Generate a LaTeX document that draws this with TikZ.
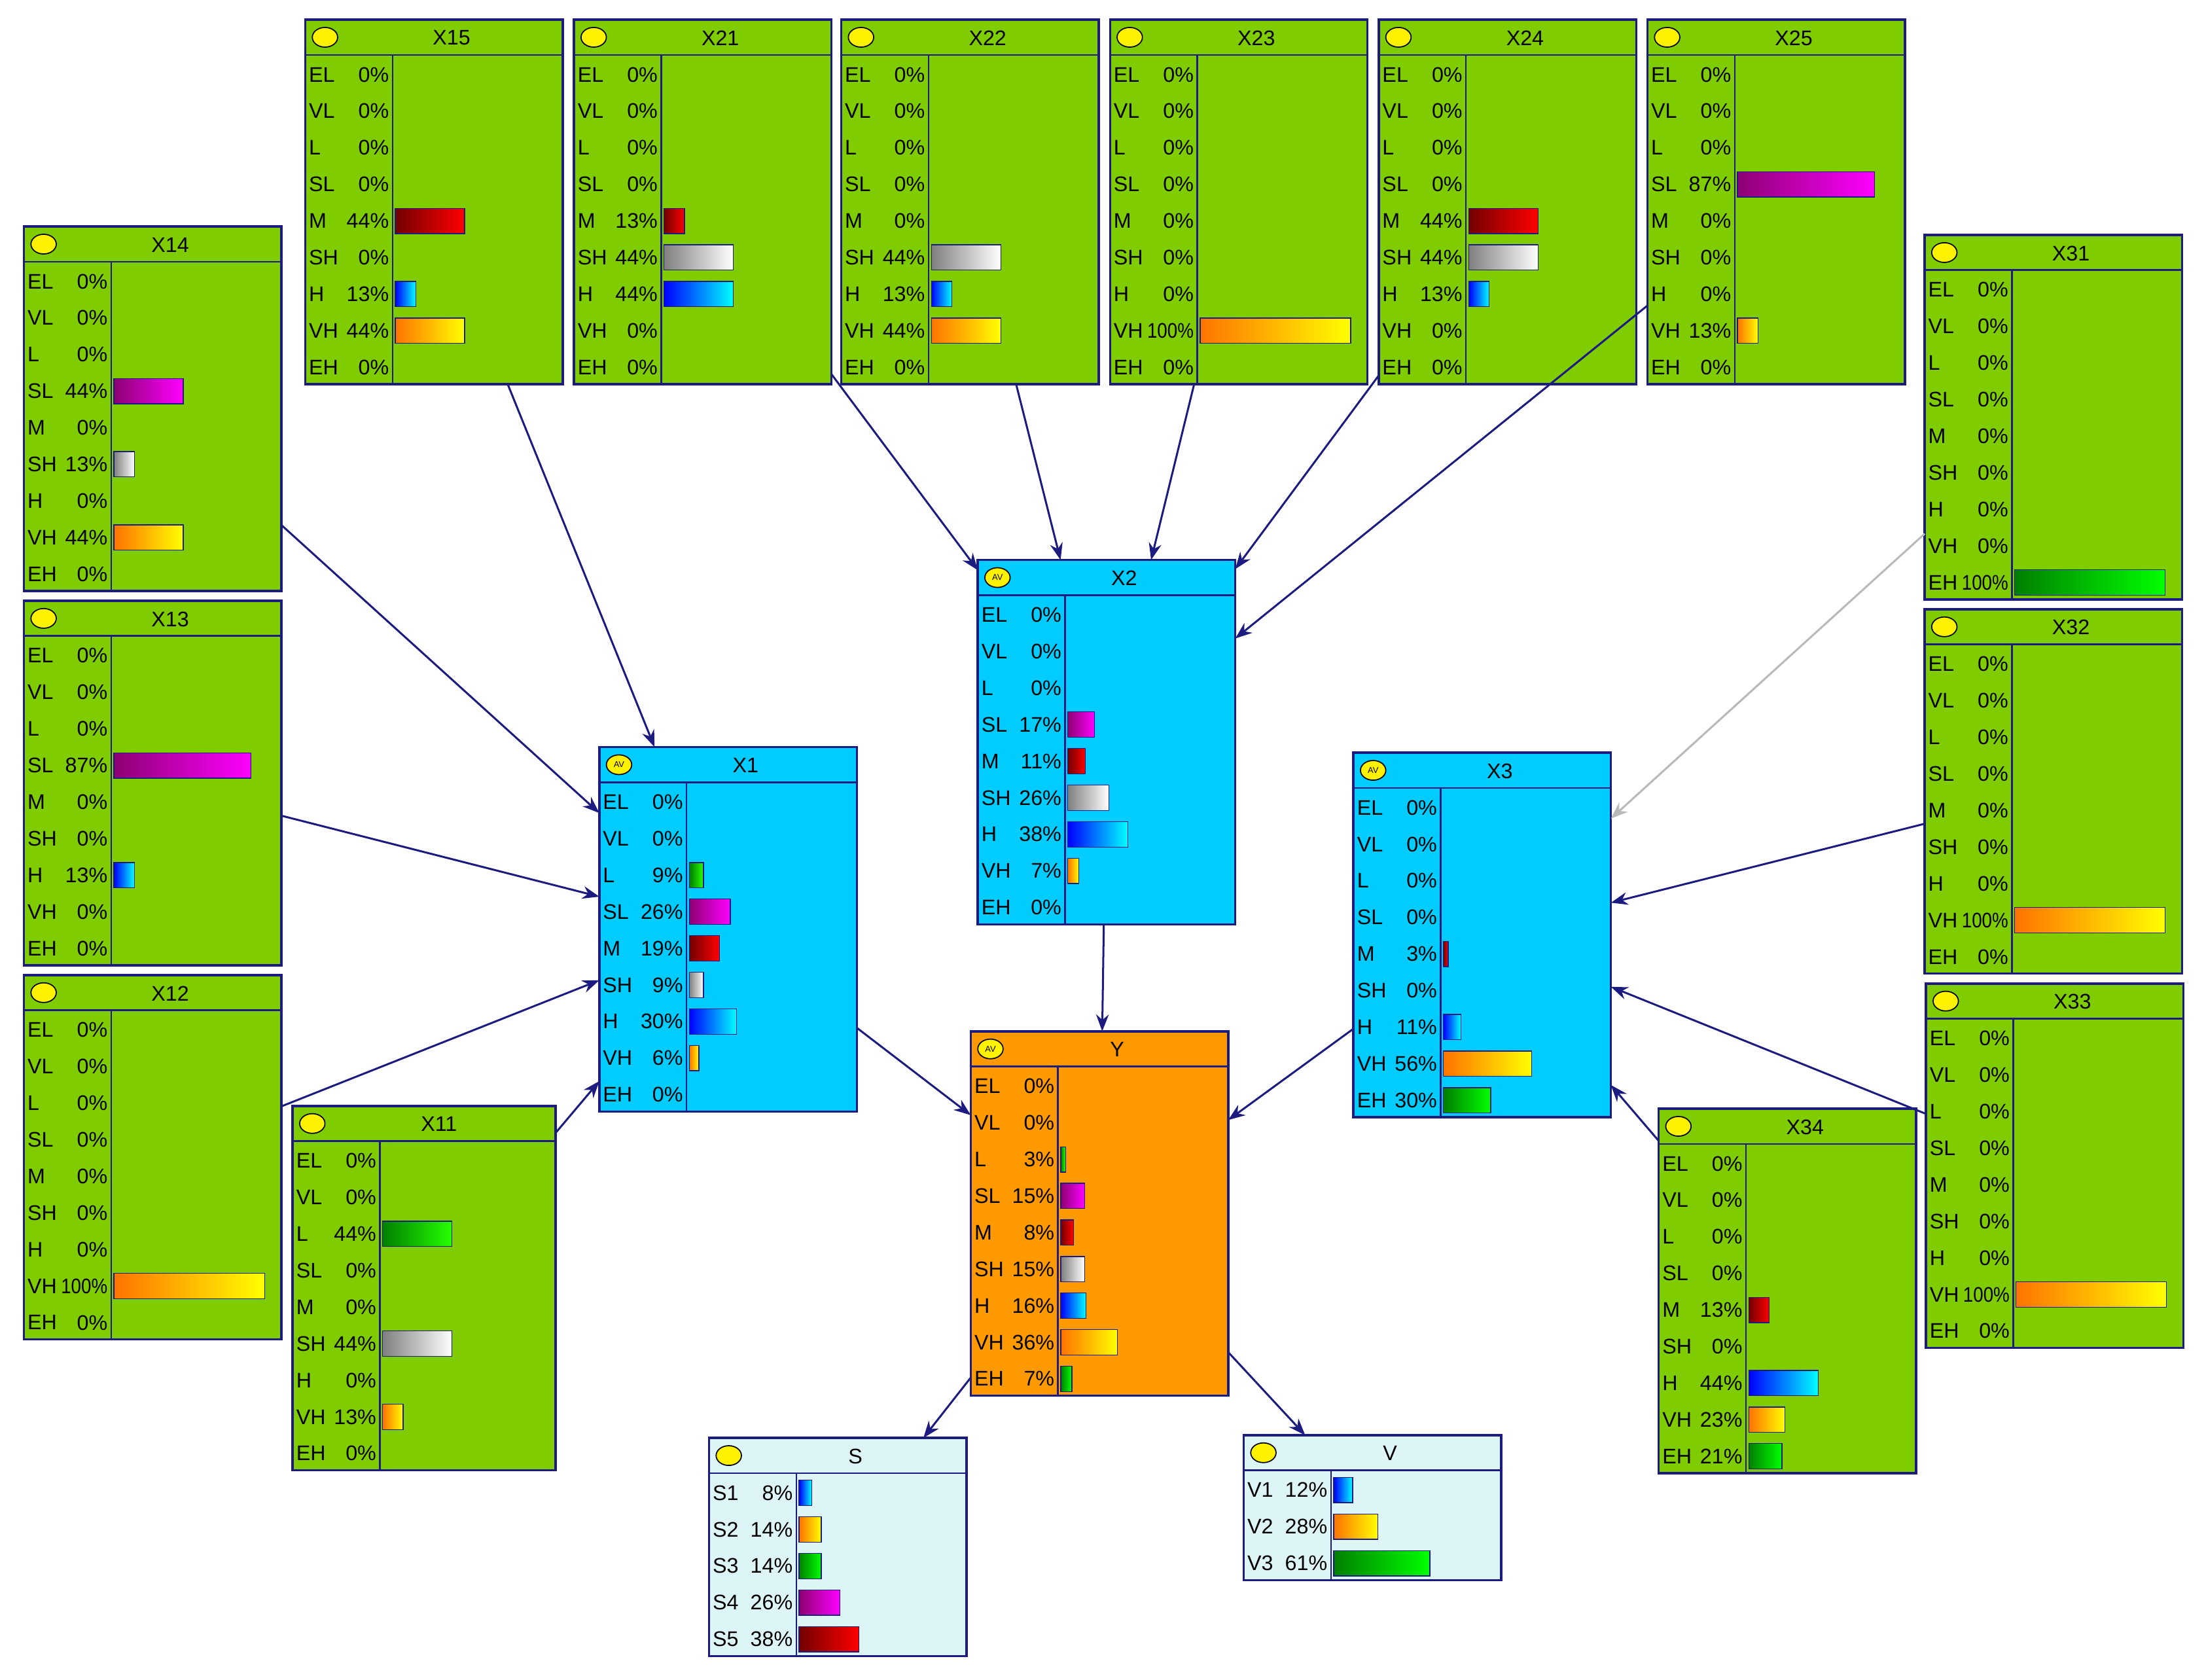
\documentclass[tikz,border=0pt]{standalone}
\usepackage{fontspec}
\setmainfont{Liberation Sans}
\usetikzlibrary{arrows.meta}
\definecolor{gn}{HTML}{7FCC00}
\definecolor{cy}{HTML}{00CCFF}
\definecolor{og}{HTML}{FF9900}
\definecolor{lc}{HTML}{DDF5F7}
\definecolor{nv}{HTML}{1C1C80}
\tikzset{
 x=0.5pt,y=-0.5pt,
 box/.style={draw=nv,line width=0.8pt,minimum width=91.5pt,inner sep=0pt,outer sep=0pt},
 bord/.style={draw=nv,line width=0.6pt},
 lab/.style={font=\fontsize{7.5}{8}\selectfont,inner sep=0.6pt},
 title/.style={font=\fontsize{7.5}{8}\selectfont,inner sep=0pt},
 bar/.style={draw=nv,line width=0.3pt},
 bEL/.style={left color=green!50!black,right color=green},
 bVL/.style={left color=green!50!black,right color=green},
 bL/.style={left color=green!50!black,right color=green!80!lime},
 bSL/.style={left color=violet!80!purple,right color=magenta},
 bM/.style={left color=red!45!black,right color=red},
 bSH/.style={left color=gray,right color=white},
 bH/.style={left color=blue,right color=cyan},
 bVH/.style={left color=orange!90!red,right color=yellow},
 bEH/.style={left color=green!50!black,right color=green},
 bS1/.style={bH},bS2/.style={bVH},bS3/.style={bEH},bS4/.style={bSL},bS5/.style={bM},
 bV1/.style={bH},bV2/.style={bVH},bV3/.style={bEH},
 edge/.style={draw=nv,line width=0.7pt,-{Stealth[length=6pt,width=4.5pt]}},
}
\newcommand\bnode[9]{%
 \pgfmathsetmacro\hgt{(25+26*#4)*0.5}
 \pgfmathsetmacro\bxw{#9*0.5}
 \node[box,fill=#5,minimum height=\hgt pt,minimum width=\bxw pt,anchor=north west] (#1) at (#2,#3) {};
 \draw[bord] (#2,#3+25) -- ++(#9,0);
 \draw[bord] (#2+62,#3+25) -- (#2+62,#3+25+26*#4);
 \draw[fill=yellow,draw=black,line width=0.4pt] (#2+14,#3+12.5) ellipse [x radius=4.5pt,y radius=3.5pt];
 \node[font=\fontsize{3}{3}\selectfont,inner sep=0pt] at (#2+14,#3+12.5) {#6};
 \node[title] at (#2+104,#3+13) {#7};
 \foreach \lb/\pc [count=\ii from 0] in {#8}{
   \pgfmathsetmacro\yc{#3+39+26*\ii}
   \node[lab,anchor=west] at (#2+1,\yc) {\lb};
   \node[lab,anchor=east] at (#2+61,\yc) {\ifnum\pc>99 \scalebox{0.86}[1]{\pc\%}\else\pc\%\fi};
   \ifnum\pc>0
     \pgfmathsetmacro\bw{min(1.12*\pc,107)}
     \edef\dobar{\noexpand\draw[bar,b\lb]}%
     \dobar (#2+64,\yc-9) rectangle ++(\bw,18);
   \fi
 }
}
\begin{document}
\begin{tikzpicture}
\fill[white] (0,0) rectangle (1568,1194);
\useasboundingbox (0,0) rectangle (1568,1194);
\bnode{X15}{217}{14}{9}{gn}{}{X15}{EL/0,VL/0,L/0,SL/0,M/44,SH/0,H/13,VH/44,EH/0}{183}
\bnode{X21}{408}{14}{9}{gn}{}{X21}{EL/0,VL/0,L/0,SL/0,M/13,SH/44,H/44,VH/0,EH/0}{183}
\bnode{X22}{598}{14}{9}{gn}{}{X22}{EL/0,VL/0,L/0,SL/0,M/0,SH/44,H/13,VH/44,EH/0}{183}
\bnode{X23}{789}{14}{9}{gn}{}{X23}{EL/0,VL/0,L/0,SL/0,M/0,SH/0,H/0,VH/100,EH/0}{183}
\bnode{X24}{980}{14}{9}{gn}{}{X24}{EL/0,VL/0,L/0,SL/0,M/44,SH/44,H/13,VH/0,EH/0}{183}
\bnode{X25}{1171}{14}{9}{gn}{}{X25}{EL/0,VL/0,L/0,SL/87,M/0,SH/0,H/0,VH/13,EH/0}{183}
\bnode{X14}{17}{161}{9}{gn}{}{X14}{EL/0,VL/0,L/0,SL/44,M/0,SH/13,H/0,VH/44,EH/0}{183}
\bnode{X13}{17}{427}{9}{gn}{}{X13}{EL/0,VL/0,L/0,SL/87,M/0,SH/0,H/13,VH/0,EH/0}{183}
\bnode{X12}{17}{693}{9}{gn}{}{X12}{EL/0,VL/0,L/0,SL/0,M/0,SH/0,H/0,VH/100,EH/0}{183}
\bnode{X11}{208}{786}{9}{gn}{}{X11}{EL/0,VL/0,L/44,SL/0,M/0,SH/44,H/0,VH/13,EH/0}{187}
\bnode{X1}{426}{531}{9}{cy}{AV}{X1}{EL/0,VL/0,L/9,SL/26,M/19,SH/9,H/30,VH/6,EH/0}{183}
\bnode{X2}{695}{398}{9}{cy}{AV}{X2}{EL/0,VL/0,L/0,SL/17,M/11,SH/26,H/38,VH/7,EH/0}{183}
\bnode{Y}{690}{733}{9}{og}{AV}{Y}{EL/0,VL/0,L/3,SL/15,M/8,SH/15,H/16,VH/36,EH/7}{183}
\bnode{X3}{962}{535}{9}{cy}{AV}{X3}{EL/0,VL/0,L/0,SL/0,M/3,SH/0,H/11,VH/56,EH/30}{183}
\bnode{X31}{1368}{167}{9}{gn}{}{X31}{EL/0,VL/0,L/0,SL/0,M/0,SH/0,H/0,VH/0,EH/100}{183}
\bnode{X32}{1368}{433}{9}{gn}{}{X32}{EL/0,VL/0,L/0,SL/0,M/0,SH/0,H/0,VH/100,EH/0}{183}
\bnode{X33}{1369}{699}{9}{gn}{}{X33}{EL/0,VL/0,L/0,SL/0,M/0,SH/0,H/0,VH/100,EH/0}{183}
\bnode{X34}{1179}{788}{9}{gn}{}{X34}{EL/0,VL/0,L/0,SL/0,M/13,SH/0,H/44,VH/23,EH/21}{183}
\bnode{S}{504}{1022}{5}{lc}{}{S}{S1/8,S2/14,S3/14,S4/26,S5/38}{183}
\bnode{V}{884}{1020}{3}{lc}{}{V}{V1/12,V2/28,V3/61}{183}
\draw[edge] (X15) -- (X1);
\draw[edge] (X14) -- (X1);
\draw[edge] (X13) -- (X1);
\draw[edge] (X12) -- (X1);
\draw[edge] (X11) -- (X1);
\draw[edge] (X21) -- (X2);
\draw[edge] (X22) -- (X2);
\draw[edge] (X23) -- (X2);
\draw[edge] (X24) -- (X2);
\draw[edge] (X25) -- (X2);
\draw[edge,draw=gray!55] (X31) -- (X3);
\draw[edge] (X32) -- (X3);
\draw[edge] (X33) -- (X3);
\draw[edge] (X34) -- (X3);
\draw[edge] (X1) -- (Y);
\draw[edge] (X2) -- (Y);
\draw[edge] (X3) -- (Y);
\draw[edge] (Y) -- (S);
\draw[edge] (Y) -- (V);
\end{tikzpicture}
\end{document}
